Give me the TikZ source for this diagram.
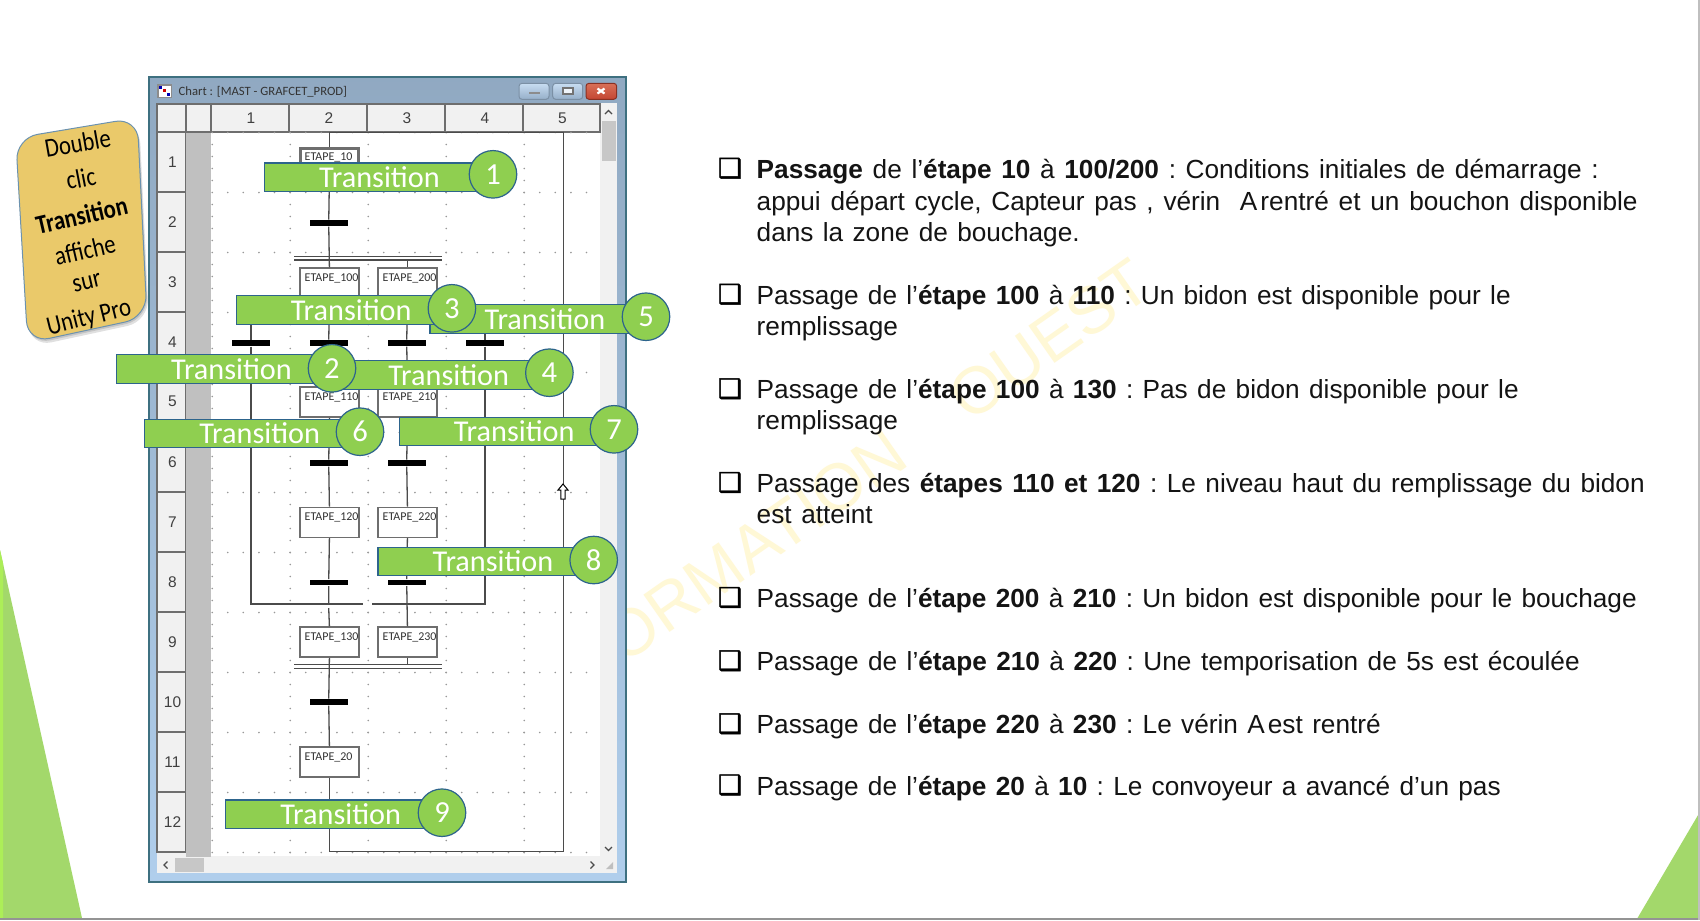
\documentclass[tikz,border=0pt]{standalone}
\usepackage{fontspec}
\setmainfont{Liberation Sans}
\newfontfamily\calib{Carlito}
\newfontfamily\symb[FakeBold=1.6]{DejaVu Sans}
\newdimen\pxu \pxu=0.01cm
\definecolor{grn}{RGB}{143,207,80}
\definecolor{grnedge}{RGB}{45,100,140}
\definecolor{tri}{RGB}{163,216,107}
\definecolor{trilight}{RGB}{172,238,88}
\definecolor{wire}{RGB}{75,75,75}
\definecolor{cellline}{RGB}{110,110,110}
\definecolor{cellfill}{RGB}{241,241,241}
\definecolor{strip}{RGB}{192,192,192}
\definecolor{gold}{RGB}{234,201,106}
\definecolor{wmark}{RGB}{255,248,214}
\definecolor{frameblue}{RGB}{176,206,236}
\definecolor{frameedge}{RGB}{62,112,128}
\definecolor{closetop}{RGB}{216,112,88}
\definecolor{closebot}{RGB}{196,70,50}
\tikzset{
  banner/.style={draw=grnedge,line width=0.012cm,fill=grn,anchor=north west,minimum width=2.30cm,minimum height=0.285cm,inner sep=0pt,text=white,font=\calib\fontsize{8.6}{10}\selectfont},
  numdisc/.style={circle,draw=grnedge,line width=0.012cm,fill=grn,minimum size=0.475cm,inner sep=0pt,text=white,font=\calib\fontsize{8.7}{10}\selectfont},
  stepbox/.style={draw=cellline,line width=0.014cm,fill=white,minimum width=0.59cm,minimum height=0.30cm,inner sep=0pt,anchor=north west},
  steplabel/.style={anchor=west,inner sep=0pt,text=black!80,font=\calib\fontsize{3.4}{4}\selectfont},
  tbar/.style={fill=black,minimum width=0.377cm,minimum height=0.056cm,inner sep=0pt},
  wireline/.style={draw=wire,line width=0.013cm},
  griddot/.style={fill=black!40},
  hdr/.style={draw=cellline,line width=0.016cm,fill=cellfill},
  hdrnum/.style={inner sep=0pt,text=black!75,font=\fontsize{4.4}{5}\selectfont},
  txt/.style={anchor=base west,inner sep=0pt,text=black!92,font=\frenchspacing\fontsize{7.45}{9}\selectfont},
  bull/.style={inner sep=0pt,text=black,font=\symb\fontsize{7.6}{9}\selectfont},
  calltxt/.style={inner sep=0pt,text=black,font=\calib\fontsize{6.45}{8}\selectfont,yscale=1.18,transform shape},
  chev/.style={draw=black!70,line width=0.012cm},
}
\newcommand{\stepnode}[4]{%
  \node[stepbox] (#1) at (#2,#3) {};
  \node[steplabel] (#1t) at ([xshift=0.048cm,yshift=-0.11cm]#1.north west) {#4};}
\newcommand{\transit}[5]{%
  \node[banner] (bar#1) at (#2,#3) {Transition};
  \node[numdisc] (num#1) at (#4,#5) {#1};}
\newcommand{\tline}[5]{\node[txt] (#1) at (#2,#3) {\makebox[#4\pxu][s]{#5}};}
\newcommand{\bl}[1]{\textbf{#1}}
\begin{document}
\begin{tikzpicture}[x=0.01cm,y=-0.01cm]
\useasboundingbox (0,0) rectangle (1700,920);
\fill[white] (0,0) rectangle (1700,920);
% slide decoration
\fill[tri] (0,550) -- (82,918) -- (0,918) -- cycle;
\fill[trilight] (0,550) -- (3,563) -- (3,918) -- (0,918) -- cycle;
\fill[tri] (1637.5,918) -- (1700,811.7) -- (1700,918) -- cycle;
\fill[black!42] (0,917.5) rectangle (1700,920);
\fill[black!25] (1698,0) rectangle (1700,920);
% watermark
\node[anchor=base west,rotate=35,inner sep=0pt,text=wmark,font=\fontsize{18.8}{20}\selectfont] (wm) at (590,689) {FORMATION\hspace{20pt}OUEST};
% window
\draw[frameedge,line width=0.016cm,top color=black!18!frameblue,bottom color=frameblue] (149,77) rectangle (626,882);
\fill[white] (157,103) rectangle (617,873);
\fill[cellfill] (600,103) rectangle (617,873);
\fill[cellfill] (157,856) rectangle (617,873);
% title bar
\fill[black!45] (157,84) rectangle (172,98);
\fill[white] (158.5,85.5) rectangle (170.5,96.5);
\fill[blue!70!black] (159,86) rectangle (162,89);
\fill[red!80!black] (163,89) rectangle (166,92);
\fill[blue!70!black] (167,93) rectangle (170,96);
\node[anchor=west,inner sep=0pt,text=black!80,font=\calib\fontsize{3.6}{5}\selectfont] (title) at (178,92) {Chart : [MAST - GRAFCET\_PROD]};
\draw[draw=black!30!frameblue,line width=0.01cm,rounded corners=0.03cm,top color=frameblue!70,bottom color=black!15!frameblue] (519,83.3) rectangle (549,99.3);
\draw[draw=black!30!frameblue,line width=0.01cm,rounded corners=0.03cm,top color=frameblue!70,bottom color=black!15!frameblue] (552.7,83.3) rectangle (582.7,99.3);
\draw[draw=closebot!70!black,line width=0.01cm,rounded corners=0.03cm,top color=closetop,bottom color=closebot] (586,83.3) rectangle (616.7,99.3);
\fill[black!45] (529,91.5) rectangle (540,94);
\draw[black!55,line width=0.02cm,fill=white!80!frameblue] (563,87.5) rectangle (573,94);
\draw[white,line width=0.022cm] (597.5,88.5) -- (604.5,93.5) (597.5,93.5) -- (604.5,88.5);
% row and column headers
\draw[hdr] (157,104) rectangle (186,131.7);
\draw[hdr] (186,104) rectangle (211,131.7);
\foreach \c/\xa/\xb in {1/211/289,2/289/367,3/367/445,4/445/523,5/523/600}{
  \draw[hdr] (\xa,104) rectangle (\xb,131.7);
  \pgfmathsetmacro{\xm}{(\xa+\xb)/2+1}
  \node[hdrnum] (col\c) at (\xm,118.5) {\c};
}
\foreach \r in {1,...,12}{
  \pgfmathsetmacro{\ya}{131.7+60*(\r-1)}
  \pgfmathsetmacro{\yb}{\ya+60}
  \pgfmathsetmacro{\ym}{\ya+30}
  \draw[hdr] (157,\ya) rectangle (186,\yb);
  \node[hdrnum] (row\r) at (172.5,\ym) {\r};
}
\fill[strip] (186,132.5) rectangle (211,856.5);
\fill[cellfill] (157,852.5) rectangle (186,873);
% grid dots
\foreach \k in {0,...,12}{
  \pgfmathsetmacro{\yy}{132.5+60*\k}
  \foreach \i in {0,...,23}{
    \pgfmathsetmacro{\xx}{227.7+15.6*\i}
    \fill[griddot] (\xx,\yy) circle (0.009cm);
  }
}
\foreach \xx in {212.3,290.3,368.3,446.3,524.3}{
  \foreach \j in {0,...,60}{
    \pgfmathsetmacro{\yy}{132.5+12*\j}
    \fill[griddot] (\xx,\yy) circle (0.009cm);
  }
}
% scrollbars
\fill[black!22] (602,121) rectangle (616,161);
\fill[black!22] (175,858) rectangle (204,872);
\draw[chev] (605,114) -- (608.5,110.5) -- (612,114);
\draw[chev] (605,847) -- (608.5,850.5) -- (612,847);
\draw[chev] (167.5,861.5) -- (164,865) -- (167.5,868.5);
\draw[chev] (590.5,861.5) -- (594,865) -- (590.5,868.5);
\fill[black!25] (606,869) -- (613,862) -- (613,869) -- cycle;
% GRAFCET nodes
\coordinate (topright) at (563.2,132.7);
\coordinate (botright) at (563.2,851.7);
\stepnode{e10}{299.2}{146.7}{ETAPE\_10}
\draw[cellline,line width=0.014cm] ([xshift=0.022cm,yshift=-0.022cm]e10.north west) rectangle ([xshift=-0.022cm,yshift=0.022cm]e10.south east);
\node[tbar] (b2) at (328.7,223) {};
\stepnode{e100}{299.2}{267.4}{ETAPE\_100}
\stepnode{e200}{377.2}{267.4}{ETAPE\_200}
\node[tbar] (b41) at (251,343) {};
\node[tbar] (b42) at (328.7,343) {};
\node[tbar] (b43) at (406.7,343) {};
\node[tbar] (b44) at (485,343) {};
\stepnode{e110}{299.2}{386.4}{ETAPE\_110}
\stepnode{e210}{377.2}{386.4}{ETAPE\_210}
\node[tbar] (b62) at (328.7,463) {};
\node[tbar] (b63) at (406.7,463) {};
\stepnode{e120}{299.2}{506.7}{ETAPE\_120}
\stepnode{e220}{377.2}{506.7}{ETAPE\_220}
\node[tbar] (b82) at (328.7,582.5) {};
\node[tbar] (b83) at (406.7,582.5) {};
\stepnode{e130}{299.2}{626.4}{ETAPE\_130}
\stepnode{e230}{377.2}{626.4}{ETAPE\_230}
\node[tbar] (b10) at (328.7,702) {};
\stepnode{e20}{299.2}{746.4}{ETAPE\_20}
% double bars
\coordinate (d1a) at (294,256.3); \coordinate (d1b) at (441.5,256.3);
\coordinate (d1c) at (294,260); \coordinate (d1d) at (441.5,260);
\coordinate (d2a) at (294,664.3); \coordinate (d2b) at (441.5,664.3);
\coordinate (d2c) at (294,668.3); \coordinate (d2d) at (441.5,668.3);
\draw[wireline] (d1a) -- (d1b) (d1c) -- (d1d) (d2a) -- (d2b) (d2c) -- (d2d);
% connectors
\coordinate (brl) at (251,310); \coordinate (brr) at (485,310);
\coordinate (mgl) at (251,604); \coordinate (mgr) at (485,604);
\coordinate (mga) at (363,604); \coordinate (mgb) at (372,604);
\draw[wireline,line width=0.014cm] (e10.north) |- (topright) -- (botright) -| (e20.south);
\draw[wireline] (e10.south) -- (b2) -- (e100.north);
\draw[wireline] (e200.north) -- (e200.north |- d1c);
\draw[wireline] (e100.south) -- (b42) -- (e110.north);
\draw[wireline] (e200.south) -- (b43) -- (e210.north);
\draw[wireline] (brl) -- (brl -| b42);
\draw[wireline] (brr) -- (brr -| b43);
\draw[wireline] (brl) -- (b41) -- (mgl) -- (mga);
\draw[wireline] (brr) -- (b44) -- (mgr) -- (mgb);
\draw[wireline] (e110.south) -- (b62) -- (e120.north);
\draw[wireline] (e210.south) -- (b63) -- (e220.north);
\draw[wireline] (e120.south) -- (b82) -- (b82 |- mgl);
\draw[wireline] (e220.south) -- (b83) -- (e230.north);
\draw[wireline] ([yshift=-0.04cm]b82 |- mgl) -- (e130.north);
\draw[wireline] (e130.south) -- (b10) -- (e20.north);
\draw[wireline] (e230.south) -- (e230.south |- d2a);
% bars on top of wires
\foreach \b in {b2,b41,b42,b43,b44,b62,b63,b82,b83,b10}{\fill[black] ([xshift=-0.188cm,yshift=-0.028cm]\b.center) rectangle ([xshift=0.188cm,yshift=0.028cm]\b.center);}
% cursor
\draw[black,line width=0.01cm,fill=white] (563,484) -- (568,490) -- (565.2,490) -- (565.2,499) -- (560.8,499) -- (560.8,490) -- (558,490) -- cycle;
% numbered transition banners
\transit{1}{263.7}{162.3}{493}{174.3}
\transit{5}{429.3}{304}{646}{316.7}
\transit{3}{235.5}{295}{451.9}{308.3}
\transit{4}{333}{360}{549.4}{372.7}
\transit{2}{115.8}{354}{332}{368.3}
\transit{6}{144}{418.7}{360}{431.7}
\transit{7}{398.5}{416.7}{614}{429.3}
\transit{8}{377.3}{546.7}{593.7}{560}
\transit{9}{225}{799.3}{442}{812.7}
% callout
\fill[black,opacity=0.12,rounded corners=0.22cm] (17.7,142) -- (139.3,121.7) -- (149,321.3) -- (29.7,347) -- cycle;
\fill[black,opacity=0.12,rounded corners=0.22cm] (16.7,140) -- (138.3,119.7) -- (148,319.3) -- (28.7,345) -- cycle;
\draw[draw=grnedge!70,line width=0.01cm,fill=gold,rounded corners=0.22cm] (15.7,138) -- (137.3,117.7) -- (147,317.3) -- (27.7,343) -- cycle;
\node[rotate=10,calltxt] (c1) at (77.7,143) {Double};
\node[rotate=11,calltxt] (c2) at (81,178) {clic};
\node[rotate=13,calltxt] (c3) at (81.7,215) {\bfseries Transition};
\node[rotate=13,calltxt] (c4) at (85,250) {affiche};
\node[rotate=13,calltxt] (c5) at (87,283) {sur};
\node[rotate=14,calltxt] (c6) at (89,318) {Unity Pro};
% text column
\foreach \n/\yy in {1/178.3,2/304.3,3/398.8,4/492.5,5/607.5,6/670.7,7/733.7,8/795}{
  \node[bull] (bul\n) at (730,\yy-10) {❑};
}
\tline{p1a}{756}{178.3}{842}{\bl{Passage} de l’\bl{étape 10} à \bl{100/200} : Conditions initiales de démarrage :}
\tline{p1b}{756}{210}{881}{appui départ cycle, Capteur pas , vérin\ \ A\hspace{0.12em}rentré et un bouchon disponible}
\tline{p1c}{756}{241}{323}{dans la zone de bouchage.}
\tline{p2a}{756}{304.3}{754}{Passage de l’\bl{étape 100} à \bl{110} : Un bidon est disponible pour le}
\tline{p2b}{756}{335.3}{145}{remplissage}
\tline{p3a}{756}{398.8}{762}{Passage de l’\bl{étape 100} à \bl{130} : Pas de bidon disponible pour le}
\tline{p3b}{756}{429.8}{145}{remplissage}
\tline{p4a}{756}{492.5}{888}{Passage des \bl{étapes 110 et 120} : Le niveau haut du remplissage du bidon}
\tline{p4b}{756}{523.5}{116}{est atteint}
\tline{p5a}{756}{607.5}{880}{Passage de l’\bl{étape 200} à \bl{210} : Un bidon est disponible pour le bouchage}
\tline{p6a}{756}{670.7}{823}{Passage de l’\bl{étape 210} à \bl{220} : Une temporisation de 5s est écoulée}
\tline{p7a}{756}{733.7}{624}{Passage de l’\bl{étape 220} à \bl{230} : Le vérin A\hspace{0.12em}est rentré}
\tline{p8a}{756}{795}{744}{Passage de l’\bl{étape 20} à \bl{10} : Le convoyeur a avancé d’un pas}
\end{tikzpicture}
\end{document}
